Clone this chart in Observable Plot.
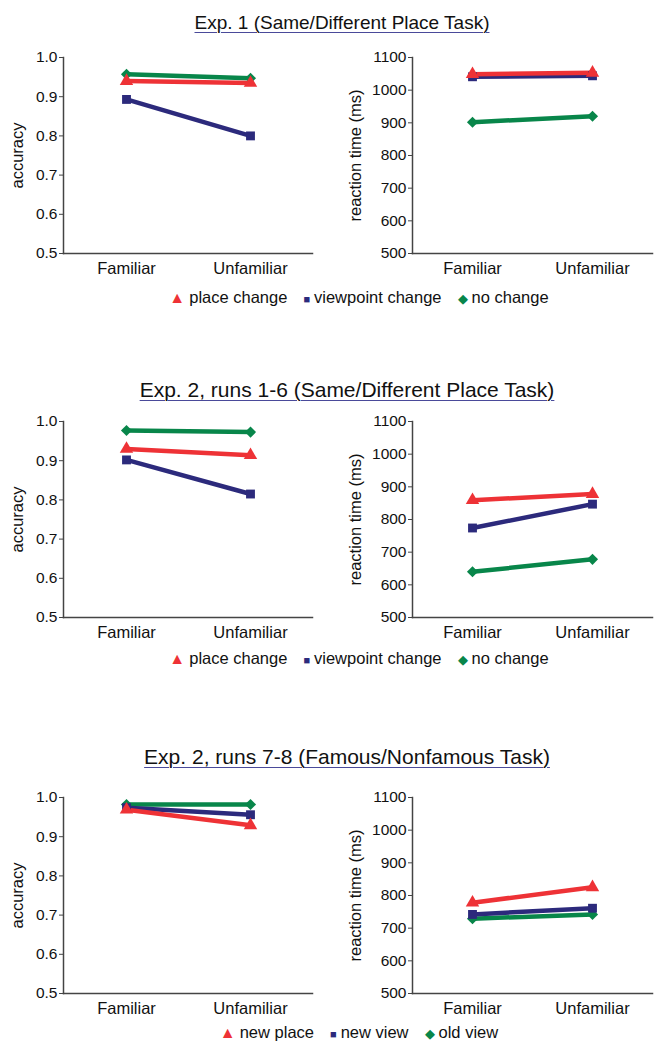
<!DOCTYPE html>
<html>
<head>
<meta charset="utf-8">
<script src="https://cdn.jsdelivr.net/npm/d3@7"></script>
<script src="https://cdn.jsdelivr.net/npm/@observablehq/plot@0.6"></script>
<style>
  body { margin: 0; background: #fff; font-family: "Liberation Sans", Arial, sans-serif; }
  #chart { position: relative; width: 658px; height: 1043px; overflow: hidden; }
  .title { position: absolute; width: 658px; text-align: center; line-height: 19px; color: #111;
           text-decoration: underline; text-decoration-color: #4a4a9a; text-decoration-thickness: 1px; text-underline-offset: 3px; }
  .legend { position: absolute; left: 30px; width: 658px; text-align: center; font-size: 16.5px; line-height: 16px; color: #111; white-space: nowrap; }
  .legend .item { margin: 0 8px; }
  .legend .sym { display: inline-block; margin-right: 4px; line-height: 1; }
  .panel { position: absolute; }
</style>
</head>
<body>
<div id="chart"></div>
<script>
// ---- data ----
const conditions = ["Familiar", "Unfamiliar"];
const colors = ["#ee3236", "#2c2a7c", "#08864a"];
const symbols = ["triangle", "square", "diamond2"];

const titles = [
  "Exp. 1 (Same/Different Place Task)",
  "Exp. 2, runs 1-6 (Same/Different Place Task)",
  "Exp. 2, runs 7-8 (Famous/Nonfamous Task)"
];
const seriesNames12 = ["place change", "viewpoint change", "no change"];
const seriesNames3 = ["new place", "new view", "old view"];

const accTicks = [0.5, 0.6, 0.7, 0.8, 0.9, 1.0];
const rtTicks = [500, 600, 700, 800, 900, 1000, 1100];

// values [Familiar, Unfamiliar] per series (red, navy, green)
const exp1AccPlace = [0.940, 0.935];
const exp1AccView = [0.893, 0.800];
const exp1AccNone = [0.957, 0.947];
const exp1RtPlace = [1049, 1053];
const exp1RtView = [1041, 1044];
const exp1RtNone = [902, 920];

const exp2aAccPlace = [0.930, 0.914];
const exp2aAccView = [0.902, 0.815];
const exp2aAccNone = [0.977, 0.973];
const exp2aRtPlace = [859, 878];
const exp2aRtView = [774, 847];
const exp2aRtNone = [640, 678];

const exp2bAccPlace = [0.969, 0.929];
const exp2bAccView = [0.974, 0.956];
const exp2bAccNone = [0.982, 0.982];
const exp2bRtPlace = [778, 825];
const exp2bRtView = [742, 761];
const exp2bRtNone = [729, 742];

// ---- layout ----
const rowTops = [57, 421, 797];      // y of plot area top
const titleTops = [13, 380, 747];
const titleSizes = ["19px", "21px", "21px"];
const titleLefts = [13, 18, 18];
const legendTops = [289, 650, 1024];

const chart = document.getElementById("chart");

function toRows(names, arrays) {
  const rows = [];
  // draw order: green, navy, red (red on top)
  [2, 1, 0].forEach(i => {
    arrays[i].forEach((v, j) => rows.push({series: names[i], condition: conditions[j], value: v}));
  });
  return rows;
}

function makePanel(names, arrays, kind, col, row) {
  const isAcc = kind === "acc";
  const data = toRows(names, arrays);
  const mL = isAcc ? 63 : 83;
  const mR = isAcc ? 17 : 6;
  const mT = 20, mB = 34;
  const plot = Plot.plot({
    width: 329,
    height: mT + 196 + mB,
    marginLeft: mL, marginRight: mR, marginTop: mT, marginBottom: mB,
    style: {fontFamily: "'Liberation Sans', Arial, sans-serif", fontSize: "15px", color: "#111", background: "transparent", overflow: "visible"},
    x: {type: "point", domain: conditions, padding: 0.5},
    y: isAcc ? {domain: [0.5, 1.0]} : {domain: [500, 1100]},
    color: {domain: names, range: colors},
    symbol: {domain: names, range: symbols},
    marks: [
      Plot.frame({anchor: "left", stroke: "#444", strokeWidth: 1.5}),
      Plot.frame({anchor: "bottom", stroke: "#444", strokeWidth: 1.5}),
      Plot.axisY({
        ticks: isAcc ? accTicks : rtTicks,
        tickFormat: isAcc ? d3.format(".1f") : d3.format("d"),
        tickSize: 4, tickPadding: 2, stroke: "#444",
        label: null,
        fontSize: 15.5
      }),
      Plot.axisY({
        ticks: [], tickSize: 0,
        label: isAcc ? "accuracy" : "reaction time (ms)",
        labelAnchor: "center", labelArrow: "none",
        labelOffset: isAcc ? 52 : 63,
        fontSize: 16.5
      }),
      Plot.axisX({tickSize: 0, tickPadding: 9, label: null, fontSize: 16.5}),
      Plot.line(data, {x: "condition", y: "value", z: "series", stroke: "series", strokeWidth: 4.5}),
      Plot.dot(data, {x: "condition", y: "value", fill: "series", symbol: "series", r: 5, stroke: "none"})
    ]
  });
  const div = document.createElement("div");
  div.className = "panel";
  div.style.left = (col * 329) + "px";
  div.style.top = (rowTops[row] - mT) + "px";
  div.appendChild(plot);
  chart.appendChild(div);
}

function addTitle(text, row) {
  const d = document.createElement("div");
  d.className = "title";
  d.style.top = titleTops[row] + "px";
  d.style.left = titleLefts[row] + "px";
  d.style.fontSize = titleSizes[row];
  d.textContent = text;
  chart.appendChild(d);
}

function addLegend(names, row) {
  const d = document.createElement("div");
  d.className = "legend";
  d.style.top = legendTops[row] + "px";
  const glyphs = ["▲", "■", "◆"];
  const sizes = ["16px", "11px", "13px"];
  names.forEach((n, i) => {
    const item = document.createElement("span");
    item.className = "item";
    const s = document.createElement("span");
    s.className = "sym";
    s.style.color = colors[i];
    s.style.fontSize = sizes[i];
    s.textContent = glyphs[i];
    item.appendChild(s);
    item.appendChild(document.createTextNode(n));
    d.appendChild(item);
  });
  chart.appendChild(d);
}

titles.forEach((t, r) => addTitle(t, r));

makePanel(seriesNames12, [exp1AccPlace, exp1AccView, exp1AccNone], "acc", 0, 0);
makePanel(seriesNames12, [exp1RtPlace, exp1RtView, exp1RtNone], "rt", 1, 0);
makePanel(seriesNames12, [exp2aAccPlace, exp2aAccView, exp2aAccNone], "acc", 0, 1);
makePanel(seriesNames12, [exp2aRtPlace, exp2aRtView, exp2aRtNone], "rt", 1, 1);
makePanel(seriesNames3, [exp2bAccPlace, exp2bAccView, exp2bAccNone], "acc", 0, 2);
makePanel(seriesNames3, [exp2bRtPlace, exp2bRtView, exp2bRtNone], "rt", 1, 2);

addLegend(seriesNames12, 0);
addLegend(seriesNames12, 1);
addLegend(seriesNames3, 2);
</script>
</body>
</html>
